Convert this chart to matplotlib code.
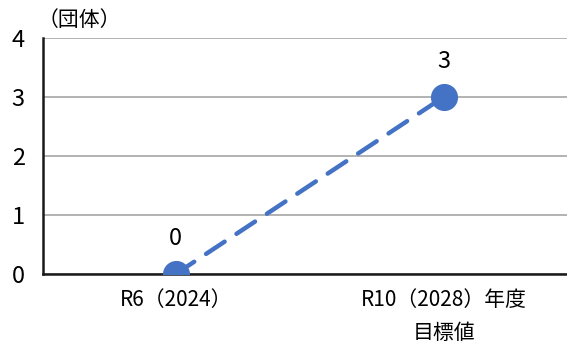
import matplotlib.pyplot as plt

# 日本語フォント
plt.rcParams['font.family'] = ['Noto Sans CJK JP', 'DejaVu Sans']

# データ
categories = ['R6（2024）', 'R10（2028）年度\n目標値']
values = [0, 3]
yticks = [0, 1, 2, 3, 4]

fig = plt.figure(figsize=(5.67, 3.47), dpi=100)
ax = fig.add_axes([0.0758, 0.2104, 0.9242, 0.6801])

x = list(range(len(categories)))
ax.plot(x, values, color='#4472C4', lw=3.2, ls=(0, (5, 3.2)), dash_capstyle='round',
        marker='o', markersize=18.5, zorder=3)

for xi, v in zip(x, values):
    ax.annotate(str(v), (xi, v), xytext=(0, 17), textcoords='offset points',
                ha='center', va='bottom', fontsize=17)

ax.set_xlim(-0.495, 1.46)
ax.set_ylim(0, 4)
ax.set_yticks(yticks)
ax.set_xticks(x)
ax.set_xticklabels(categories, fontsize=15, linespacing=1.65)
ax.tick_params(axis='y', labelsize=17, length=0, pad=13)
ax.tick_params(axis='x', length=0, pad=11)
ax.yaxis.grid(True, color='#A6A6A6', lw=1.2)
ax.set_axisbelow(True)

for s in ['top', 'right']:
    ax.spines[s].set_visible(False)
for s in ['left', 'bottom']:
    ax.spines[s].set_linewidth(1.8)
    ax.spines[s].set_color('#1a1a1a')
    ax.spines[s].set_zorder(2)

fig.text(0.066, 0.975, '（団体）', fontsize=15, ha='left', va='top')

fig.savefig('out.png', dpi=100, facecolor='white')
